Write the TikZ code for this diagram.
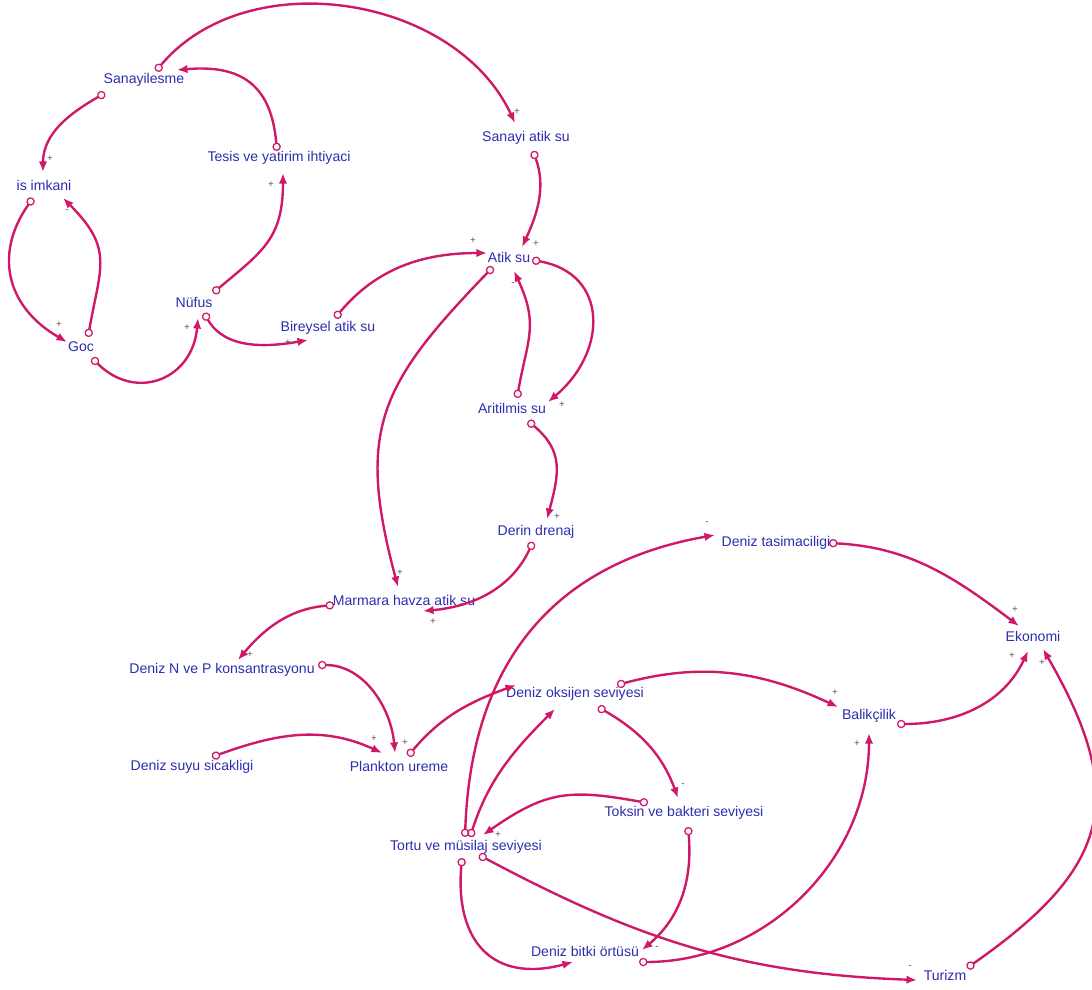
\documentclass[tikz,border=0pt]{standalone}
\usepackage{fontspec}
\setmainfont{Liberation Sans}
\usetikzlibrary{arrows.meta}
\definecolor{linkRed}{RGB}{208,24,104}
\definecolor{varBlue}{RGB}{45,45,175}
\definecolor{signGray}{RGB}{95,85,90}
\tikzset{
    varNode/.style={
        text=varBlue,
        inner sep=0pt,
        font=\fontsize{10}{12}\selectfont
    },
    link/.style={
        draw=linkRed,
        line width=1.7pt,
        arrows={Circle[open, length=6pt, line width=0.9pt]-Latex[length=7.5pt, width=6pt]}
    },
    polSign/.style={
        text=signGray,
        inner sep=0pt,
        font=\fontsize{7}{8}\selectfont
    }
}

\begin{document}
\begin{tikzpicture}[x=0.025cm, y=0.025cm]
    \useasboundingbox (0,0) rectangle (1092,989);

    % Variables
    \node[varNode] (Sanayilesme) at (144,909) {Sanayilesme};
    \node[varNode] (Tesis) at (279,831) {Tesis ve yatirim ihtiyaci};
    \node[varNode] (IsImkani) at (44,804) {is imkani};
    \node[varNode] (Nufus) at (194,687) {Nüfus};
    \node[varNode] (Bireysel) at (328,661) {Bireysel atik su};
    \node[varNode] (Goc) at (81,642) {Goc};
    \node[varNode] (SanayiAtikSu) at (526,851) {Sanayi atik su};
    \node[varNode] (AtikSu) at (509,732) {Atik su};
    \node[varNode] (Aritilmis) at (512,581) {Aritilmis su};
    \node[varNode] (DerinDrenaj) at (536,457) {Derin drenaj};
    \node[varNode] (Marmara) at (404,389) {Marmara havza atik su};
    \node[varNode] (DenizNP) at (222,319) {Deniz N ve P konsantrasyonu};
    \node[varNode] (Sicaklik) at (192,222) {Deniz suyu sicakligi};
    \node[varNode] (Plankton) at (399,223) {Plankton ureme};
    \node[varNode] (Oksijen) at (575,295) {Deniz oksijen seviyesi};
    \node[varNode] (Tasimacilik) at (776,446) {Deniz tasimaciligi};
    \node[varNode] (Ekonomi) at (1033,353) {Ekonomi};
    \node[varNode] (Balikcilik) at (869,273) {Balikçilik};
    \node[varNode] (Toksin) at (684,176) {Toksin ve bakteri seviyesi};
    \node[varNode] (Tortu) at (466,142) {Tortu ve müsilaj seviyesi};
    \node[varNode] (BitkiOrtusu) at (585,38) {Deniz bitki örtüsü};
    \node[varNode] (Turizm) at (945,14) {Turizm};

    % Links
    \draw[link] ([shift={(12,9)}]Sanayilesme.center) to[out=50, in=115] ([shift={(-11,15)}]SanayiAtikSu.center);
    \draw[link] ([shift={(-2,7)}]Tesis.center) to[out=95, in=5, looseness=1.3] ([shift={(33,10)}]Sanayilesme.center);
    \draw[link] ([shift={(-39,-13)}]Sanayilesme.center) to[out=210, in=90] ([shift={(-1,13)}]IsImkani.center);
    \draw[link] ([shift={(-11,-13)}]IsImkani.center) to[out=235, in=150, looseness=1.2] ([shift={(-14,5)}]Goc.center);
    \draw[link] ([shift={(7,10)}]Goc.center) to[out=80, in=-45, looseness=1.3] ([shift={(19,-13)}]IsImkani.center);
    \draw[link] ([shift={(11,-11)}]Goc.center) to[out=-45, in=-95, looseness=1.4] ([shift={(4,-16)}]Nufus.center);
    \draw[link] ([shift={(19,9)}]Nufus.center) to[out=40, in=-90, looseness=1.2] ([shift={(4,-15)}]Tesis.center);
    \draw[link] ([shift={(10,-11)}]Nufus.center) to[out=-60, in=190] ([shift={(-20,-12)}]Bireysel.center);
    \draw[link] ([shift={(7,10)}]Bireysel.center) to[out=50, in=180] ([shift={(-22,4)}]AtikSu.center);
    \draw[link] ([shift={(7,-13)}]SanayiAtikSu.center) to[out=-70, in=65] ([shift={(13,10)}]AtikSu.center);
    \draw[link] ([shift={(23,-3)}]AtikSu.center) to[out=-10, in=40, looseness=1.4] ([shift={(36,6)}]Aritilmis.center);
    \draw[link] ([shift={(5,10)}]Aritilmis.center) to[out=80, in=-65, looseness=1.2] ([shift={(5,-14)}]AtikSu.center);
    \draw[link] ([shift={(-16,-10)}]AtikSu.center) to[out=226, in=105, looseness=1.25] ([shift={(-6,13)}]Marmara.center);
    \draw[link] ([shift={(16,-13)}]Aritilmis.center) to[out=-40, in=75, looseness=1.2] ([shift={(11,13)}]DerinDrenaj.center);
    \draw[link] ([shift={(-3,-10)}]DerinDrenaj.center) to[out=-115, in=5] ([shift={(19,-11)}]Marmara.center);
    \draw[link] ([shift={(-70,-5)}]Marmara.center) to[out=185, in=50] ([shift={(16,10)}]DenizNP.center);
    \draw[link] ([shift={(96,5)}]DenizNP.center) to[out=0, in=95] ([shift={(-4,13)}]Plankton.center);
    \draw[link] ([shift={(20,10)}]Sicaklik.center) to[out=20, in=155] ([shift={(-17,13)}]Plankton.center);
    \draw[link] ([shift={(9,10)}]Plankton.center) to[out=50, in=200] ([shift={(-59,9)}]Oksijen.center);
    \draw[link] ([shift={(-1,10)}]Tortu.center) to[out=88, in=190, looseness=1.1] ([shift={(-61,8)}]Tasimacilik.center);
    \draw[link] ([shift={(4,10)}]Tortu.center) to[out=72, in=225] ([shift={(-20,-15)}]Oksijen.center);
    \draw[link] ([shift={(42,9)}]Oksijen.center) to[out=15, in=155] ([shift={(-31,9)}]Balikcilik.center);
    \draw[link] ([shift={(23,-13)}]Oksijen.center) to[out=-30, in=110] ([shift={(-6,15)}]Toksin.center);
    \draw[link] ([shift={(-36,10)}]Toksin.center) to[out=170, in=35, looseness=1.2] ([shift={(17,12)}]Tortu.center);
    \draw[link] ([shift={(4,-14)}]Toksin.center) to[out=-85, in=40] ([shift={(57,1)}]BitkiOrtusu.center);
    \draw[link] ([shift={(-4,-11)}]Tortu.center) to[out=-95, in=195, looseness=1.4] ([shift={(-12,-11)}]BitkiOrtusu.center);
    \draw[link] ([shift={(13,-8)}]Tortu.center) to[out=-28, in=178] ([shift={(-28,-5)}]Turizm.center);
    \draw[link] ([shift={(54,-11)}]BitkiOrtusu.center) to[out=0, in=-90] ([shift={(0,-17)}]Balikcilik.center);
    \draw[link] ([shift={(28,-8)}]Balikcilik.center) to[out=0, in=-115] ([shift={(-5,-15)}]Ekonomi.center);
    \draw[link] ([shift={(53,0)}]Tasimacilik.center) to[out=-3, in=143] ([shift={(-14,10)}]Ekonomi.center);
    \draw[link] ([shift={(22,7)}]Turizm.center) to[out=35, in=-60, looseness=1.35] ([shift={(10,-13)}]Ekonomi.center);

    % Polarities
    \foreach \id/\xy/\s in {p1/{517,877}/+, p3/{50,830}/+, p4/{59,664}/+, p5/{67,778}/-,
        p6/{187,661}/+, p7/{271,804}/+, p8/{288,646}/+, p9/{473,748}/+, p10/{536,745}/+,
        p11/{562,584}/+, p12/{513,705}/-, p13/{400,416}/+, p14/{557,472}/+, p15/{433,367}/+,
        p16/{250,334}/+, p17/{405,246}/+, p18/{374,250}/+, p19/{503,316}/-, p20/{707,466}/-,
        p22/{835,296}/+, p23/{683,204}/-, p24/{498,154}/+, p25/{657,41}/-, p27/{910,22}/-,
        p28/{857,245}/+, p29/{1012,333}/+, p30/{1015,379}/+, p31/{1042,326}/+}
        \node[polSign] (\id) at (\xy) {\s};
\end{tikzpicture}
\end{document}
